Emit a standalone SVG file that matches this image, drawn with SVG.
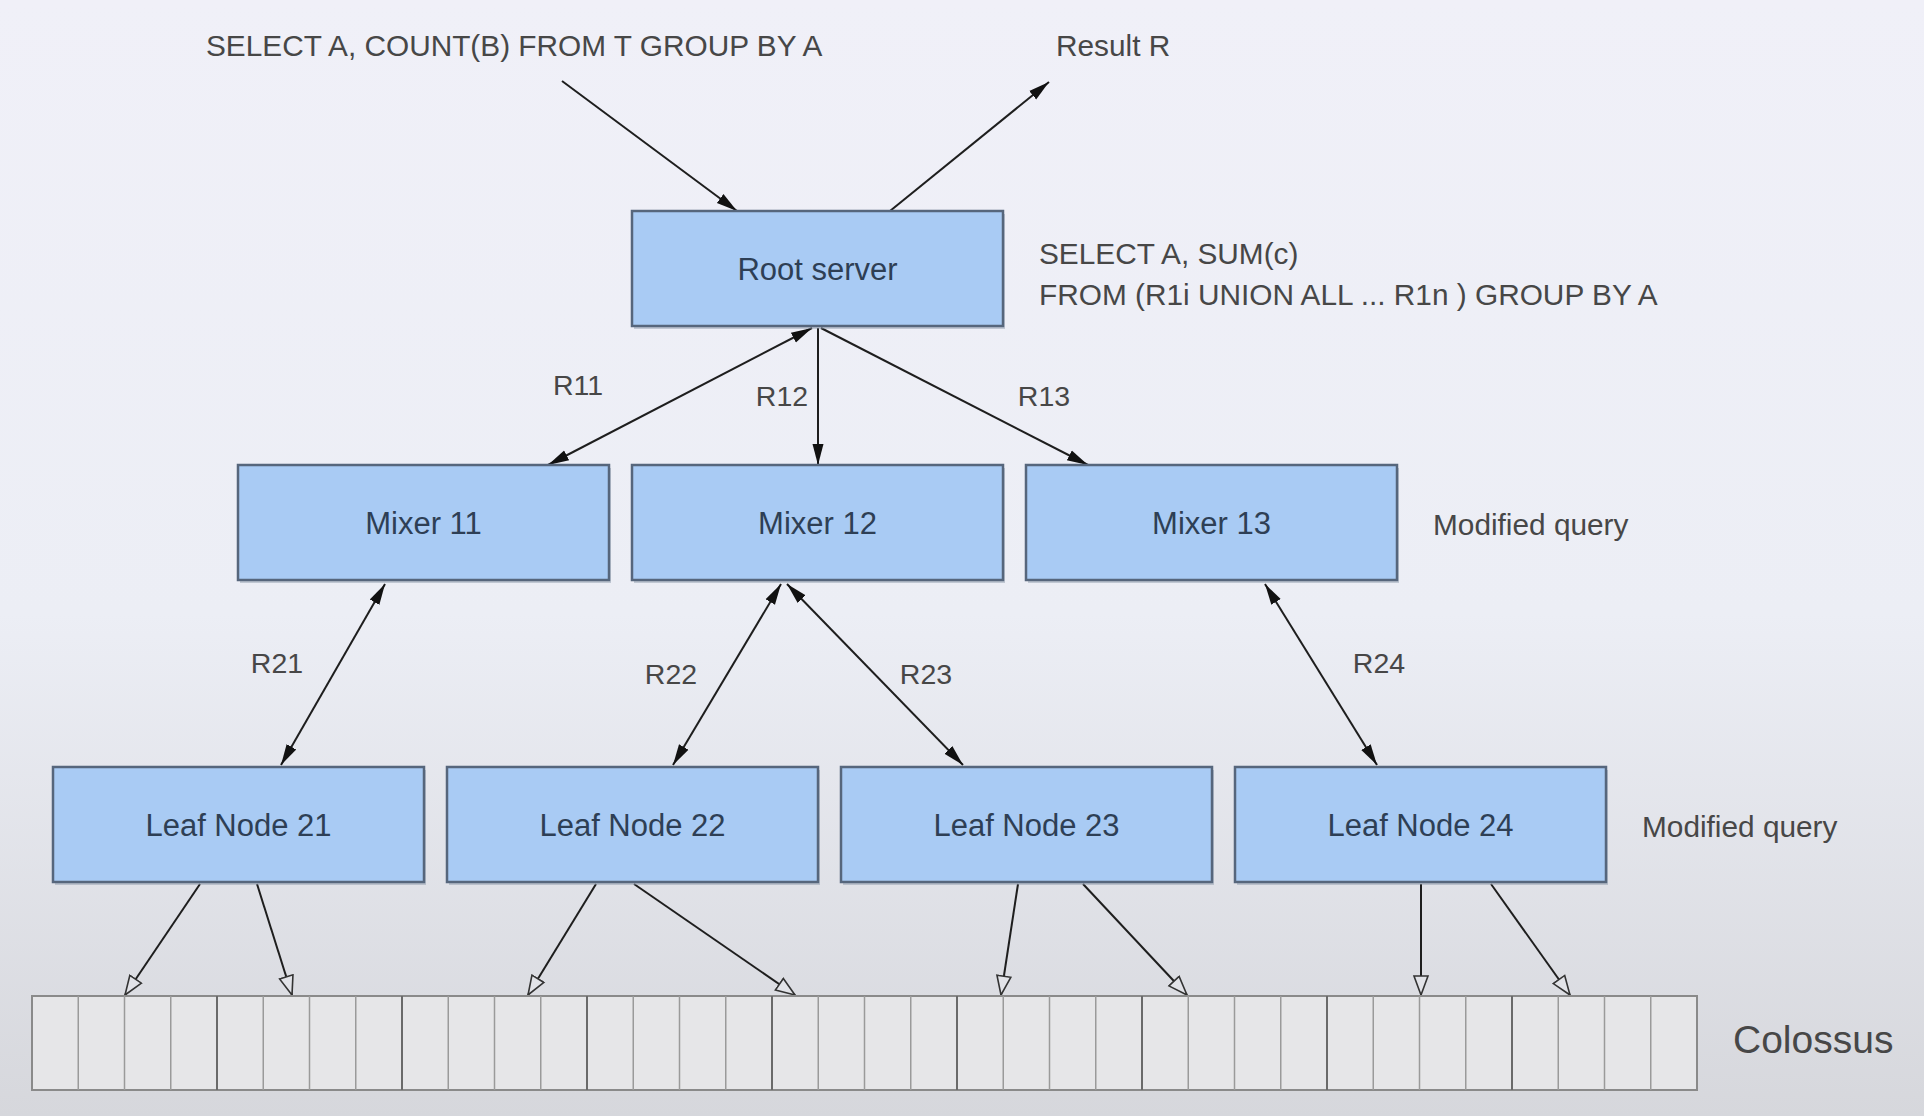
<svg xmlns="http://www.w3.org/2000/svg" width="1924" height="1116" viewBox="0 0 1924 1116">
<defs>
<linearGradient id="bg" x1="0" y1="0" x2="0" y2="1">
<stop offset="0" stop-color="#f0f0f8"/>
<stop offset="0.55" stop-color="#eceef5"/>
<stop offset="1" stop-color="#d6d7dc"/>
</linearGradient>
<marker id="fh" markerUnits="userSpaceOnUse" markerWidth="22" markerHeight="14" viewBox="0 0 22 14" refX="21" refY="7" orient="auto-start-reverse">
<path d="M0,1.5 L21,7 L0,12.5 Z" fill="#111"/>
</marker>
<marker id="oh" markerUnits="userSpaceOnUse" markerWidth="22" markerHeight="18" viewBox="0 0 22 18" refX="20" refY="9" orient="auto">
<path d="M1,2 L20,9 L1,16 Z" fill="#e2e3e8" stroke="#333" stroke-width="1.6"/>
</marker>
</defs>
<style>
.box{fill:#a9cbf4;stroke:#56667c;stroke-width:2.5}
.shadow{fill:#8a97a8;opacity:0.45}
.nt{font-family:"Liberation Sans",Arial,sans-serif;font-size:31px;fill:#2e3f55;text-anchor:middle;dominant-baseline:central}
.t{font-family:"Liberation Sans",Arial,sans-serif;font-size:29.8px;fill:#474747}
.lbl{font-family:"Liberation Sans",Arial,sans-serif;font-size:28.5px;fill:#474747;text-anchor:middle;dominant-baseline:central}
.ln{stroke:#1e1e1e;stroke-width:2;fill:none}
.cell{stroke:#9a9a9a;stroke-width:1.5}
.grp{stroke:#6a6a6a;stroke-width:2}
</style>
<rect x="0" y="0" width="1924" height="1116" fill="url(#bg)"/>

<g id="texts">
<text class="t" x="206" y="56">SELECT A, COUNT(B) FROM T GROUP BY A</text>
<text class="t" x="1056" y="56">Result R</text>
<text class="t" x="1039" y="264">SELECT A, SUM(c)</text>
<text class="t" x="1039" y="305">FROM (R1i UNION ALL ... R1n ) GROUP BY A</text>
<text class="t" x="1433" y="535">Modified query</text>
<text class="t" x="1642" y="837">Modified query</text>
<text class="t" x="1733" y="1053" style="font-size:39px">Colossus</text>
</g>

<g id="connectors">
<line class="ln" x1="562" y1="81" x2="737" y2="211" marker-end="url(#fh)"/>
<line class="ln" x1="890" y1="211" x2="1049" y2="82" marker-end="url(#fh)"/>
<line class="ln" x1="812" y1="328" x2="548" y2="465" marker-start="url(#fh)" marker-end="url(#fh)"/>
<line class="ln" x1="818" y1="328" x2="818" y2="465" marker-end="url(#fh)"/>
<line class="ln" x1="821" y1="328" x2="1088" y2="465" marker-end="url(#fh)"/>
<line class="ln" x1="385" y1="584" x2="281" y2="765" marker-start="url(#fh)" marker-end="url(#fh)"/>
<line class="ln" x1="781" y1="584" x2="673" y2="765" marker-start="url(#fh)" marker-end="url(#fh)"/>
<line class="ln" x1="787" y1="584" x2="963" y2="765" marker-start="url(#fh)" marker-end="url(#fh)"/>
<line class="ln" x1="1265" y1="584" x2="1377" y2="765" marker-start="url(#fh)" marker-end="url(#fh)"/>
<line class="ln" x1="200" y1="884" x2="125" y2="995" marker-end="url(#oh)"/>
<line class="ln" x1="257" y1="884" x2="292" y2="995" marker-end="url(#oh)"/>
<line class="ln" x1="596" y1="884" x2="528" y2="995" marker-end="url(#oh)"/>
<line class="ln" x1="634" y1="884" x2="795" y2="995" marker-end="url(#oh)"/>
<line class="ln" x1="1018" y1="884" x2="1001" y2="995" marker-end="url(#oh)"/>
<line class="ln" x1="1083" y1="884" x2="1187" y2="995" marker-end="url(#oh)"/>
<line class="ln" x1="1421" y1="884" x2="1421" y2="995" marker-end="url(#oh)"/>
<line class="ln" x1="1491" y1="884" x2="1570" y2="995" marker-end="url(#oh)"/>
<text class="lbl" x="578" y="385">R11</text>
<text class="lbl" x="782" y="396">R12</text>
<text class="lbl" x="1044" y="396">R13</text>
<text class="lbl" x="277" y="663">R21</text>
<text class="lbl" x="671" y="674">R22</text>
<text class="lbl" x="926" y="674">R23</text>
<text class="lbl" x="1379" y="663">R24</text>
</g>

<g id="root">
<rect class="shadow" x="634" y="214" width="371" height="115"/>
<rect class="box" x="632" y="211" width="371" height="115"/>
<text class="nt" x="817.5" y="269">Root server</text>
</g>
<g id="mixer11">
<rect class="shadow" x="240" y="468" width="371" height="115"/>
<rect class="box" x="238" y="465" width="371" height="115"/>
<text class="nt" x="423.5" y="523">Mixer 11</text>
</g>
<g id="mixer12">
<rect class="shadow" x="634" y="468" width="371" height="115"/>
<rect class="box" x="632" y="465" width="371" height="115"/>
<text class="nt" x="817.5" y="523">Mixer 12</text>
</g>
<g id="mixer13">
<rect class="shadow" x="1028" y="468" width="371" height="115"/>
<rect class="box" x="1026" y="465" width="371" height="115"/>
<text class="nt" x="1211.5" y="523">Mixer 13</text>
</g>
<g id="leaf21">
<rect class="shadow" x="55" y="770" width="371" height="115"/>
<rect class="box" x="53" y="767" width="371" height="115"/>
<text class="nt" x="238.5" y="825">Leaf Node 21</text>
</g>
<g id="leaf22">
<rect class="shadow" x="449" y="770" width="371" height="115"/>
<rect class="box" x="447" y="767" width="371" height="115"/>
<text class="nt" x="632.5" y="825">Leaf Node 22</text>
</g>
<g id="leaf23">
<rect class="shadow" x="843" y="770" width="371" height="115"/>
<rect class="box" x="841" y="767" width="371" height="115"/>
<text class="nt" x="1026.5" y="825">Leaf Node 23</text>
</g>
<g id="leaf24">
<rect class="shadow" x="1237" y="770" width="371" height="115"/>
<rect class="box" x="1235" y="767" width="371" height="115"/>
<text class="nt" x="1420.5" y="825">Leaf Node 24</text>
</g>

<g id="colossus">
<rect x="32" y="996" width="1665" height="94" fill="#e6e6e8" stroke="#8a8a8a" stroke-width="2"/>
<g class="cell">
<line x1="78.25" y1="996" x2="78.25" y2="1090"/><line x1="124.5" y1="996" x2="124.5" y2="1090"/><line x1="170.75" y1="996" x2="170.75" y2="1090"/>
<line x1="263.25" y1="996" x2="263.25" y2="1090"/><line x1="309.5" y1="996" x2="309.5" y2="1090"/><line x1="355.75" y1="996" x2="355.75" y2="1090"/>
<line x1="448.25" y1="996" x2="448.25" y2="1090"/><line x1="494.5" y1="996" x2="494.5" y2="1090"/><line x1="540.75" y1="996" x2="540.75" y2="1090"/>
<line x1="633.25" y1="996" x2="633.25" y2="1090"/><line x1="679.5" y1="996" x2="679.5" y2="1090"/><line x1="725.75" y1="996" x2="725.75" y2="1090"/>
<line x1="818.25" y1="996" x2="818.25" y2="1090"/><line x1="864.5" y1="996" x2="864.5" y2="1090"/><line x1="910.75" y1="996" x2="910.75" y2="1090"/>
<line x1="1003.25" y1="996" x2="1003.25" y2="1090"/><line x1="1049.5" y1="996" x2="1049.5" y2="1090"/><line x1="1095.75" y1="996" x2="1095.75" y2="1090"/>
<line x1="1188.25" y1="996" x2="1188.25" y2="1090"/><line x1="1234.5" y1="996" x2="1234.5" y2="1090"/><line x1="1280.75" y1="996" x2="1280.75" y2="1090"/>
<line x1="1373.25" y1="996" x2="1373.25" y2="1090"/><line x1="1419.5" y1="996" x2="1419.5" y2="1090"/><line x1="1465.75" y1="996" x2="1465.75" y2="1090"/>
<line x1="1558.25" y1="996" x2="1558.25" y2="1090"/><line x1="1604.5" y1="996" x2="1604.5" y2="1090"/><line x1="1650.75" y1="996" x2="1650.75" y2="1090"/>
</g>
<g class="grp">
<line x1="217" y1="996" x2="217" y2="1090"/><line x1="402" y1="996" x2="402" y2="1090"/><line x1="587" y1="996" x2="587" y2="1090"/>
<line x1="772" y1="996" x2="772" y2="1090"/><line x1="957" y1="996" x2="957" y2="1090"/><line x1="1142" y1="996" x2="1142" y2="1090"/>
<line x1="1327" y1="996" x2="1327" y2="1090"/><line x1="1512" y1="996" x2="1512" y2="1090"/>
</g>
</g>
</svg>
